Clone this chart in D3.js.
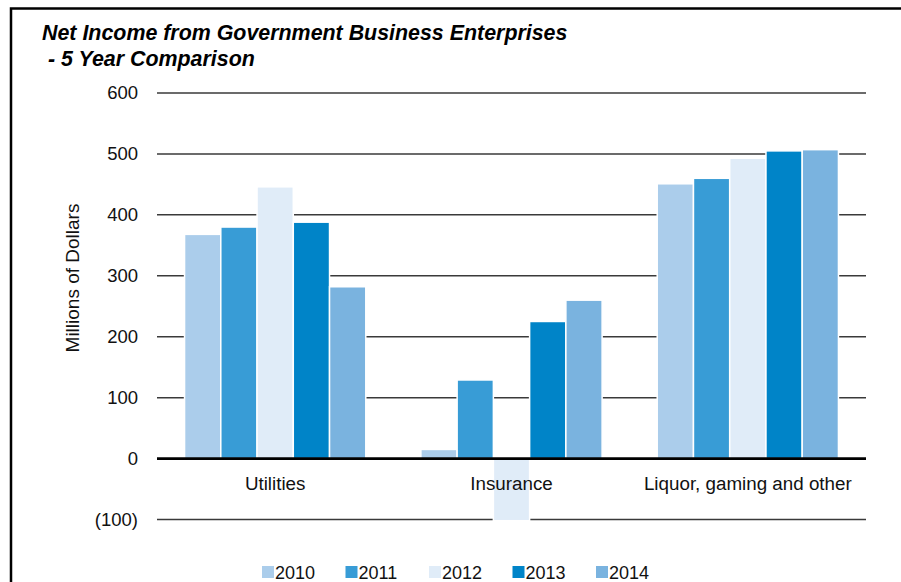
<!DOCTYPE html>
<html>
<head>
<meta charset="utf-8">
<script src="https://cdn.jsdelivr.net/npm/d3@7"></script>
<style>
    body { margin: 0; background: #fff; }
    svg { display: block; font-family: 'Liberation Sans', Arial, sans-serif; }
</style>
</head>
<body>
<svg id="chart" width="901" height="582"></svg>
<script>
// Data (millions of dollars)
const categories = ['Utilities', 'Insurance', 'Liquor, gaming and other'];
const years = ['2010', '2011', '2012', '2013', '2014'];
const values2010 = [368, 15, 451];
const values2011 = [380, 129, 460];
const values2012 = [446, -102, 493];
const values2013 = [388, 225, 505];
const values2014 = [282, 260, 507];
const yTicks = [-100, 0, 100, 200, 300, 400, 500, 600];

const YEAR_COLORS = ['#abcdeb', '#389cd6', '#e0ecf8', '#0084c8', '#7ab3df'];

const series = [values2010, values2011, values2012, values2013, values2014];

const svg = d3.select('#chart');

// outer frame
svg.append('rect')
    .attr('x', 11)
    .attr('y', 8.5)
    .attr('width', 920)
    .attr('height', 620)
    .attr('fill', 'none')
    .attr('stroke', '#000')
    .attr('stroke-width', 2.5);

// title
const title = svg.append('text')
    .attr('font-size', 21.4)
    .attr('font-weight', 'bold')
    .attr('font-style', 'italic')
    .attr('fill', '#000');
title.append('tspan').attr('x', 42).attr('y', 40)
    .text('Net Income from Government Business Enterprises');
title.append('tspan').attr('x', 42).attr('y', 66)
    .text(' - 5 Year Comparison')
    .attr('xml:space', 'preserve');

const x0 = d3.scaleBand()
    .domain(categories)
    .range([157, 866]);

const x1 = d3.scaleBand()
    .domain(years)
    .range([0, x0.bandwidth()])
    .paddingOuter(0.76);

const y = d3.scaleLinear()
    .domain([-100, 600])
    .range([519.5, 93]);

const fmt = v => v < 0 ? `(${Math.abs(v)})` : `${v}`;

// gridlines + tick labels
const grid = svg.append('g');
grid.selectAll('line')
    .data(yTicks.filter(t => t !== 0))
    .join('line')
    .attr('x1', 157)
    .attr('x2', 866)
    .attr('y1', d => y(d))
    .attr('y2', d => y(d))
    .attr('stroke', '#3a3a3a')
    .attr('stroke-width', 1.5);

svg.append('g').selectAll('text')
    .data(yTicks)
    .join('text')
    .attr('x', 138)
    .attr('y', d => y(d))
    .attr('dy', '0.35em')
    .attr('text-anchor', 'end')
    .attr('font-size', 18.5)
    .attr('fill', '#111')
    .text(fmt);

// axis title
svg.append('text')
    .attr('transform', 'translate(79,278) rotate(-90)')
    .attr('text-anchor', 'middle')
    .attr('font-size', 19)
    .attr('fill', '#111')
    .text('Millions of Dollars');

// bars
const groups = svg.append('g').selectAll('g')
    .data(categories)
    .join('g')
    .attr('transform', d => `translate(${x0(d)},0)`);

groups.selectAll('rect')
    .data((c, ci) => years.map((yr, i) => ({ year: yr, idx: i, value: series[i][ci] })))
    .join('rect')
    .attr('x', d => x1(d.year))
    .attr('width', x1.bandwidth())
    .attr('y', d => y(Math.max(0, d.value)))
    .attr('height', d => Math.abs(y(d.value) - y(0)))
    .attr('fill', d => YEAR_COLORS[d.idx])
    .attr('stroke', '#fff')
    .attr('stroke-width', 1.5);

// zero line on top
svg.append('line')
    .attr('x1', 157)
    .attr('x2', 866)
    .attr('y1', y(0))
    .attr('y2', y(0))
    .attr('stroke', '#000')
    .attr('stroke-width', 2.8);

// category labels
svg.append('g').selectAll('text')
    .data(categories)
    .join('text')
    .attr('x', d => x0(d) + x0.bandwidth() / 2)
    .attr('y', 490)
    .attr('text-anchor', 'middle')
    .attr('font-size', 18.8)
    .attr('fill', '#111')
    .text(d => d);

// legend
const legend = svg.append('g').selectAll('g')
    .data(years)
    .join('g')
    .attr('transform', (d, i) => `translate(${262 + i * 83.5},566)`);

legend.append('rect')
    .attr('width', 12)
    .attr('height', 12)
    .attr('fill', (d, i) => YEAR_COLORS[i]);

legend.append('text')
    .attr('x', 13)
    .attr('y', 12.5)
    .attr('font-size', 18)
    .attr('fill', '#111')
    .text(d => d);
</script>
</body>
</html>
